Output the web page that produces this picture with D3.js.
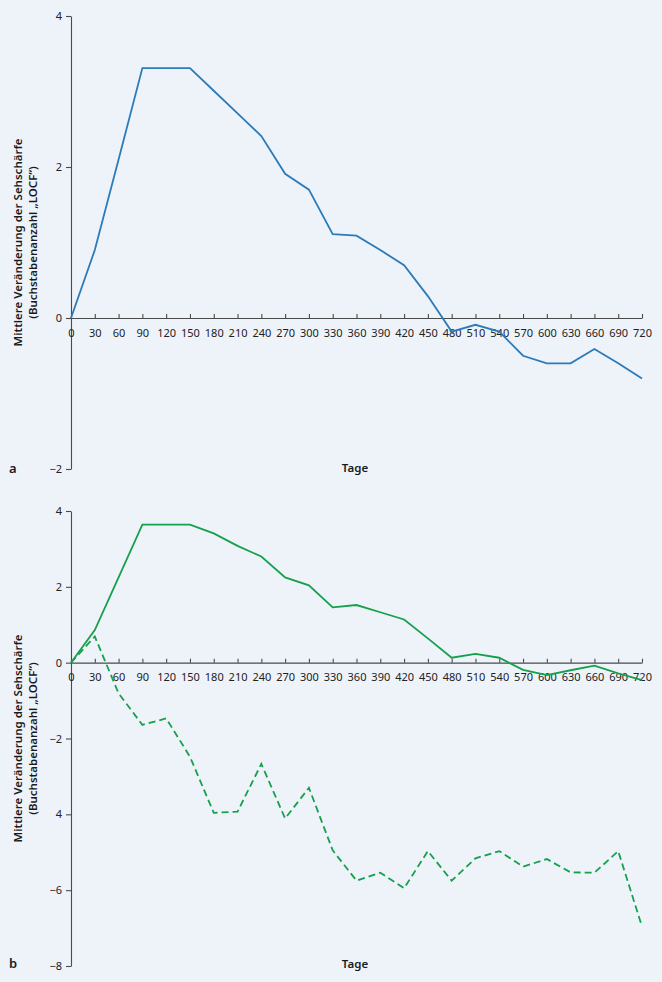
<!DOCTYPE html>
<html>
<head>
<meta charset="utf-8">
<script src="https://cdn.jsdelivr.net/npm/d3@7"></script>
<style>
  body { margin: 0; background: #eef3fa; }
  svg { display: block; font-family: 'Noto Sans', sans-serif; }
  .axis path, .axis line { stroke: #4a4a4a; stroke-width: 1.1; }
  .axis text { fill: #222; font-size: 11px; font-family: 'Noto Sans', sans-serif; }
  .title { fill: #1a1a1a; font-weight: 600; font-size: 11.5px; }
</style>
</head>
<body>
<div id="chart"></div>
<script>
// data
const days = [0, 30, 60, 90, 120, 150, 180, 210, 240, 270, 300, 330, 360,
  390, 420, 450, 480, 510, 540, 570, 600, 630, 660, 690, 720]

// panel a
const seriesA = [0, 0.90, 2.1, 3.31, 3.31, 3.31, 3.01, 2.71, 2.41, 1.91, 1.70, 1.11, 1.09,
  0.90, 0.70, 0.29, -0.18, -0.09, -0.18, -0.50, -0.60, -0.60, -0.41, -0.60, -0.80]

// panel b
const seriesB1 = [0, 0.86, 2.25, 3.64, 3.64, 3.64, 3.41, 3.08, 2.80, 2.25, 2.04, 1.46, 1.52,
  1.33, 1.14, 0.64, 0.13, 0.23, 0.13, -0.19, -0.33, -0.20, -0.08, -0.28, -0.46]
const seriesB2 = [0, 0.69, -0.81, -1.64, -1.47, -2.48, -3.96, -3.93, -2.67, -4.11, -3.30, -4.95, -5.75,
  -5.54, -5.95, -4.97, -5.75, -5.16, -4.97, -5.38, -5.18, -5.53, -5.54, -4.97, -6.96]

// tick labels
const yTicksA = [4, 2, 0, -2]
const yLabelsA = ['4', '2', '0', '\u22122']
const yTicksB = [4, 2, 0, -2, -4, -6, -8]
const yLabelsB = ['4', '2', '0', '\u22122', '4', '\u22126', '\u22128']

const yTitle1 = 'Mittlere Veränderung der Sehschärfe'
const yTitle2 = '(Buchstabenanzahl „LOCF“)'
const xTitle = 'Tage'

const width = 662
const height = 982

const svg = d3.select('#chart')
  .append('svg')
  .attr('width', width)
  .attr('height', height)

svg.append('rect')
  .attr('width', width)
  .attr('height', height)
  .attr('fill', '#eef3fa')

function panel (opts) {
  const g = svg.append('g')

  const xs = d3.scaleLinear()
    .domain([0, 720])
    .range([71, 642])
  const ys = d3.scaleLinear()
    .domain(opts.yDomain)
    .range(opts.yRange)

  // y axis
  g.append('g')
    .classed('axis', true)
    .attr('transform', 'translate(71,0)')
    .call(d3.axisLeft(ys)
      .tickValues(opts.yTicks)
      .tickFormat((d, i) => opts.yLabels[i])
      .tickSizeInner(5)
      .tickSizeOuter(0)
      .tickPadding(4))

  // x axis on the zero line, ticks pointing up
  g.append('g')
    .classed('axis', true)
    .attr('transform', `translate(0,${ys(0)})`)
    .call(d3.axisBottom(xs)
      .tickValues(days)
      .tickFormat(d3.format('d'))
      .tickSizeInner(-4)
      .tickSizeOuter(0)
      .tickPadding(11))

  // lines
  opts.series.forEach(s => {
    const line = d3.line()
      .x((d, i) => xs(days[i]))
      .y(d => ys(d))
    g.append('path')
      .datum(s.values)
      .attr('d', line)
      .attr('fill', 'none')
      .attr('stroke', s.color)
      .attr('stroke-width', 1.8)
      .attr('stroke-linejoin', 'miter')
      .attr('stroke-dasharray', s.dash || null)
  })

  // y title (two lines, rotated)
  const mid = (opts.yRange[0] + opts.yRange[1]) / 2
  g.append('text')
    .classed('title', true)
    .attr('transform', `translate(22,${mid}) rotate(-90)`)
    .attr('text-anchor', 'middle')
    .text(yTitle1)
  g.append('text')
    .classed('title', true)
    .attr('transform', `translate(36.5,${mid}) rotate(-90)`)
    .attr('text-anchor', 'middle')
    .text(yTitle2)

  // x title
  g.append('text')
    .classed('title', true)
    .attr('x', 355)
    .attr('y', opts.xTitleY)
    .attr('text-anchor', 'middle')
    .text(xTitle)

  // panel letter
  g.append('text')
    .classed('title', true)
    .style('font-size', '13px')
    .attr('x', 9)
    .attr('y', opts.letterY)
    .text(opts.letter)
}

panel({
  yDomain: [-2, 4],
  yRange: [469, 16],
  yTicks: yTicksA,
  yLabels: yLabelsA,
  series: [{ values: seriesA, color: '#2c7bb9' }],
  xTitleY: 472,
  letterY: 473,
  letter: 'a'
})

panel({
  yDomain: [-8, 4],
  yRange: [966, 511],
  yTicks: yTicksB,
  yLabels: yLabelsB,
  series: [
    { values: seriesB1, color: '#15a04a' },
    { values: seriesB2, color: '#15a04a', dash: '7,4' }
  ],
  xTitleY: 968,
  letterY: 968,
  letter: 'b'
})
</script>
</body>
</html>
